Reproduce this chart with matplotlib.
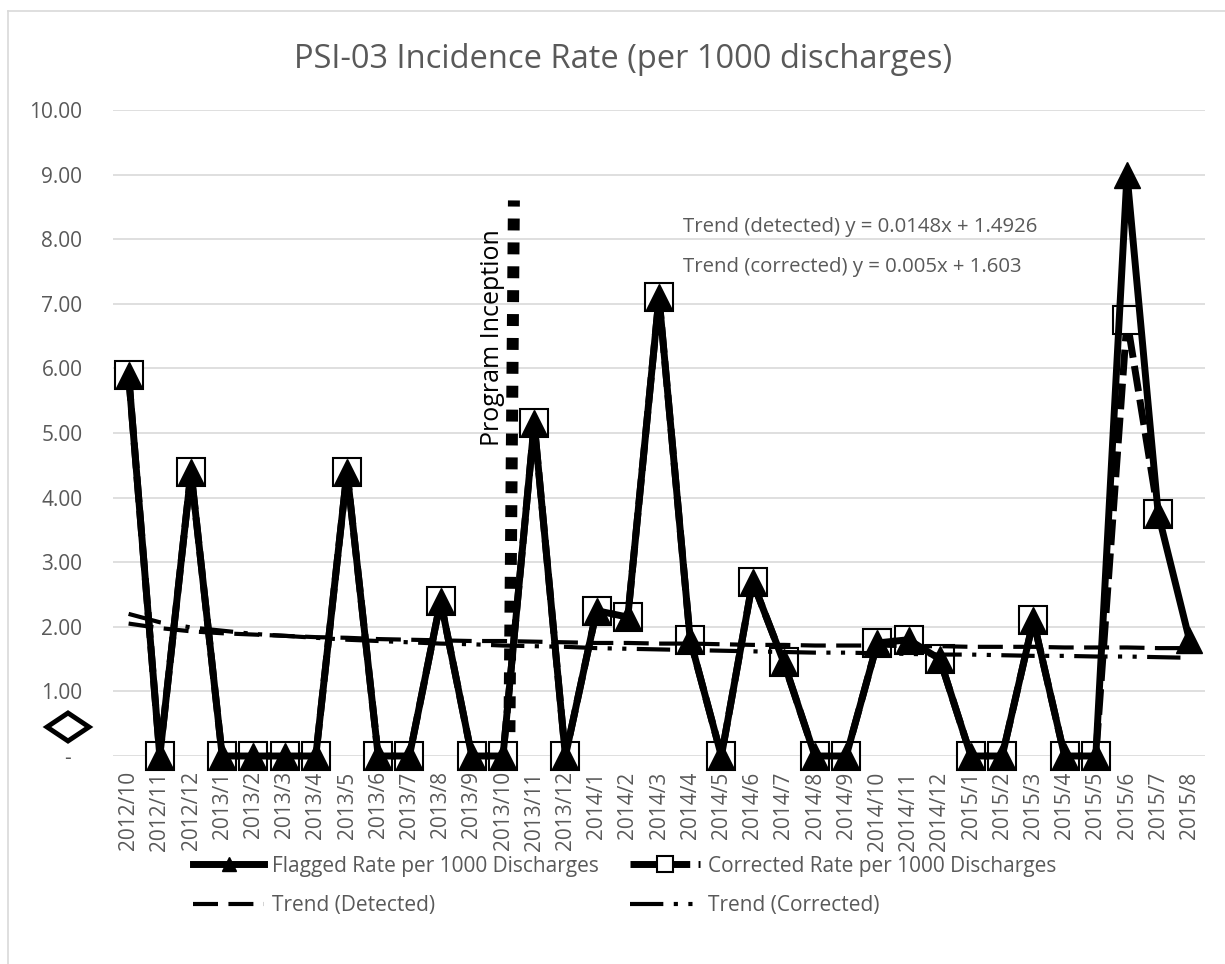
import numpy as np
import matplotlib
matplotlib.use("Agg")
import matplotlib.pyplot as plt
from matplotlib.lines import Line2D
from matplotlib.patches import Polygon

plt.rcParams['font.family'] = ['Open Sans', 'DejaVu Sans']

# data
months = ['2012/10', '2012/11', '2012/12',
          '2013/1', '2013/2', '2013/3', '2013/4', '2013/5', '2013/6',
          '2013/7', '2013/8', '2013/9', '2013/10', '2013/11', '2013/12',
          '2014/1', '2014/2', '2014/3', '2014/4', '2014/5', '2014/6',
          '2014/7', '2014/8', '2014/9', '2014/10', '2014/11', '2014/12',
          '2015/1', '2015/2', '2015/3', '2015/4', '2015/5', '2015/6',
          '2015/7', '2015/8']
flagged = [5.9, 0, 4.4, 0, 0, 0, 0, 4.4, 0, 0, 2.4, 0, 0, 5.15, 0,
           2.25, 2.15, 7.1, 1.8, 0, 2.7, 1.45, 0, 0, 1.75, 1.8, 1.5,
           0, 0, 2.1, 0, 0, 9.0, 3.75, 1.8]
corrected = [5.9, 0, 4.4, 0, 0, 0, 0, 4.4, 0, 0, 2.4, 0, 0, 5.15, 0,
             2.25, 2.15, 7.1, 1.8, 0, 2.7, 1.45, 0, 0, 1.75, 1.8, 1.5,
             0, 0, 2.1, 0, 0, 6.75, 3.75, np.nan]
trend_detected = [2.05, 1.98, 1.93, 1.90, 1.88, 1.86, 1.84, 1.83, 1.81, 1.80,
                  1.79, 1.78, 1.78, 1.77, 1.76, 1.75, 1.75, 1.74, 1.74, 1.73,
                  1.72, 1.72, 1.71, 1.71, 1.71, 1.70, 1.70, 1.69, 1.69, 1.69,
                  1.68, 1.68, 1.68, 1.67, 1.67]
trend_corrected = [2.20, 2.07, 1.99, 1.94, 1.89, 1.86, 1.83, 1.80, 1.78, 1.76,
                   1.74, 1.73, 1.71, 1.70, 1.69, 1.67, 1.66, 1.65, 1.64, 1.63,
                   1.62, 1.61, 1.60, 1.60, 1.59, 1.58, 1.57, 1.57, 1.56, 1.55,
                   1.55, 1.54, 1.54, 1.53, 1.52]
inception_month = '2013/10'
inception_top = 8.6
eq_detected = 'Trend (detected) y = 0.0148x + 1.4926'
eq_corrected = 'Trend (corrected) y = 0.005x + 1.603'
title = 'PSI-03 Incidence Rate (per 1000 discharges)'

gray = '#595959'
grid = '#d9d9d9'

fig = plt.figure(figsize=(12.25, 9.64), dpi=100)
ax = fig.add_axes([113 / 1225, 1 - 756 / 964, (1205 - 113) / 1225, (756 - 110) / 964])

x = np.arange(len(months))

# corrected series underneath, flagged on top
ax.plot(x, corrected, color='black', lw=5, dashes=(3.7, 1.2),
        marker='s', ms=20, mfc='white', mec='black', mew=1.5, zorder=3,
        clip_on=False)
ax.plot(x, flagged, color='black', lw=5, marker='^', ms=19,
        mfc='black', mec='black', zorder=4, clip_on=False)

# trend lines
ax.plot(x, trend_detected, color='black', lw=3, dashes=(6, 2.5), zorder=5)
ax.plot(x, trend_corrected, color='black', lw=3,
        dashes=(8, 2.5, 1, 2.5, 1, 2.5), zorder=5)

# program inception marker
xi = months.index(inception_month)
ax.plot([xi + 0.2, xi + 0.35], [0, inception_top], color='black', lw=8.6,
        dashes=(1, 1), solid_capstyle='butt', zorder=2, clip_on=False)
ax.text(xi - 0.35, 6.47, 'Program Inception', rotation=90, ha='center',
        va='center', fontsize=18, color='black')

ax.text(17.77, 8.19, eq_detected, fontsize=14.7, color=gray, va='center')
ax.text(17.77, 7.57, eq_corrected, fontsize=14.7, color=gray, va='center')

ax.set_xlim(-0.5, len(months) - 0.5)
ax.set_ylim(0, 10)
ax.set_yticks(np.arange(0, 11, 1))
ax.set_yticklabels(['-  '] + [f'{v:.2f}' for v in range(1, 11)])
ax.set_xticks(x)
ax.set_xticklabels(months, rotation=90)
ax.tick_params(axis='both', length=0, labelsize=15, labelcolor=gray)
ax.tick_params(axis='y', pad=22)
ax.tick_params(axis='x', pad=11)
ax.grid(axis='y', color=grid, lw=1.2)
ax.set_axisbelow(True)
for s in ax.spines.values():
    s.set_visible(False)

fig.text(623 / 1225, 1 - 60 / 964, title, ha='center', va='center',
         fontsize=23.5, color=gray)

# chart frame (left and top edges visible in the reference)
fig.add_artist(Line2D([8 / 1225, 8 / 1225], [0, 1 - 11 / 964],
                      transform=fig.transFigure, color=grid, lw=1.2))
fig.add_artist(Line2D([8 / 1225, 1], [1 - 11 / 964, 1 - 11 / 964],
                      transform=fig.transFigure, color=grid, lw=1.2))

# stray diamond shape left of the axis
cx, cy, hw, hh = 68 / 1225, 1 - 727 / 964, 21 / 1225, 14 / 964
fig.add_artist(Polygon([[cx - hw, cy], [cx, cy + hh], [cx + hw, cy], [cx, cy - hh]],
                       closed=True, fill=False, ec='black', lw=3.5,
                       transform=fig.transFigure))

# legend: filled column-wise, so order gives rows (flagged, corrected) / (trends)
handles = [
    Line2D([], [], color='black', lw=5, marker='^', ms=10),
    Line2D([], [], color='black', lw=3, dashes=(6, 2.5)),
    Line2D([], [], color='black', lw=5, dashes=(3.7, 1.2), marker='s', ms=11,
           mfc='white', mec='black', mew=1.5),
    Line2D([], [], color='black', lw=3, dashes=(8, 2.5, 1, 2.5, 1, 2.5)),
]
labels = ['Flagged Rate per 1000 Discharges', 'Trend (Detected)',
          'Corrected Rate per 1000 Discharges', 'Trend (Corrected)']
leg = fig.legend(handles, labels, ncol=2, loc='center',
                 bbox_to_anchor=(0.51, 1 - 886 / 964), frameon=False,
                 fontsize=15, handlelength=3.4, handletextpad=0.35,
                 columnspacing=1.5, labelspacing=0.9)
for t in leg.get_texts():
    t.set_color(gray)

fig.savefig('out.png', dpi=100)
